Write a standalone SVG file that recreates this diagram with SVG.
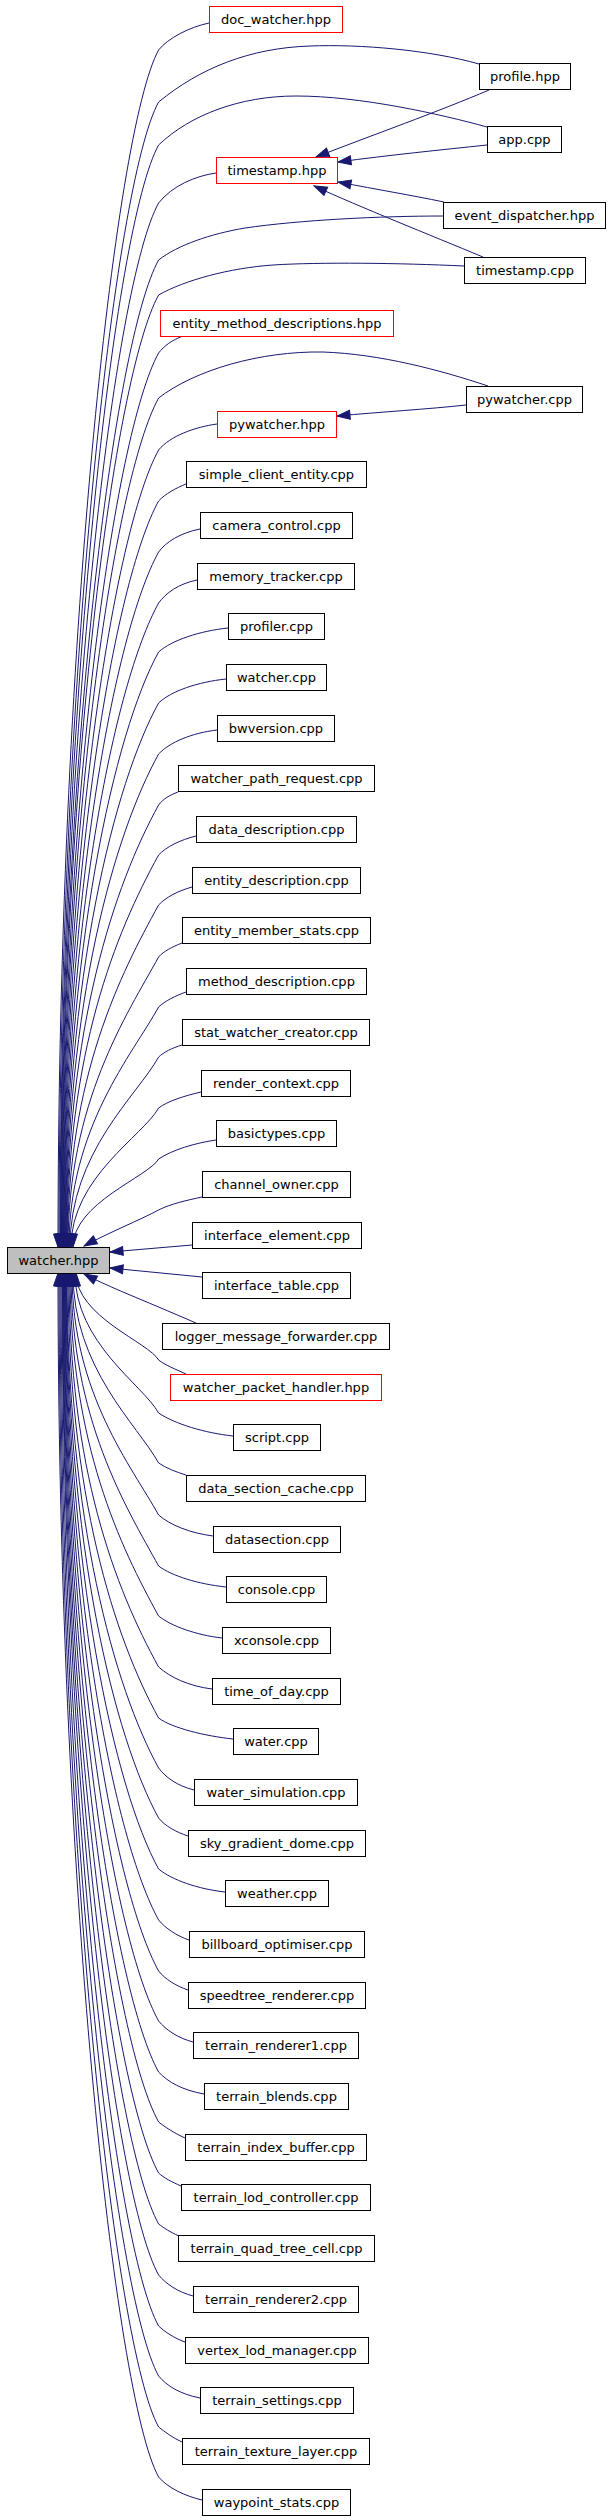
<svg xmlns="http://www.w3.org/2000/svg" width="608" height="2520" viewBox="0 0 608 2520">
<style>
.n rect{fill:#fff;stroke:#000;stroke-width:1}
.n.r rect{stroke:#f00}
.n.g rect{fill:#bfbfbf}
.n text{font-family:"DejaVu Sans","Liberation Sans",sans-serif;font-size:13px;fill:#000;text-anchor:middle}
#edges path{fill:none;stroke:#191970;stroke-width:1;marker-end:url(#a)}
</style>
<defs>
<marker id="a" markerUnits="userSpaceOnUse" markerWidth="15" markerHeight="11" refX="13" refY="5" orient="auto" viewBox="0 0 15 11" overflow="visible">
<path d="M0,0.5 L13,5 L0,9.5 Z" fill="#191970" stroke="#191970"/>
</marker>
</defs>
<rect width="608" height="2520" fill="#fff"/>
<g id="edges">
<path d="M209,23 C190,27 168,38 158.6,50 C114.6,130 58,648.5 58,1247"/>
<path d="M479,64 C430,50 360,44 310,46 C250,48 200,68 158.6,102 C114.6,182 59,674.5 59,1247"/>
<path d="M487,127 C440,114 360,96 296,96 C240,96 190,115 158.6,145 C114.6,225 60,696 60,1247"/>
<path d="M216,173 C195,176 172,186 158.6,203 C114.6,283 60.5,725 60.5,1247"/>
<path d="M443,216 C380,216 300,220 245,228 C210,234 178,245 158.6,260 C114.6,340 61,753.5 61,1247"/>
<path d="M464,266 C400,263 320,262 273,265 C230,268 185,280 158.6,295 C114.6,375 61.5,771 61.5,1247"/>
<path d="M183,336 C172,340 164,346 158.6,353 C114.6,433 62,800 62,1247"/>
<path d="M488,386 C440,370 380,354 323,352 C260,351 195,370 158.6,398 C114.6,478 62.5,822.5 62.5,1247"/>
<path d="M217,424 C195,427 170,436 158.6,450 C114.6,530 63,848.5 63,1247"/>
<path d="M186,484 C176,488 165,494 158.6,501 C114.6,581 63.5,874 63.5,1247"/>
<path d="M200,529 C180,533 166,542 158.6,552 C114.6,632 64,899.5 64,1247"/>
<path d="M197,580 C178,584 166,593 158.6,603 C114.6,683 64.5,925 64.5,1247"/>
<path d="M228,628 C200,631 172,640 158.6,652 C114.6,732 65,949.5 65,1247"/>
<path d="M226,679 C198,682 171,691 158.6,703 C114.6,783 65.5,975 65.5,1247"/>
<path d="M217,730 C192,733 170,742 158.6,754 C114.6,834 66,1000.5 66,1247"/>
<path d="M178,792 C170,795 163,799 158.6,805 C114.6,885 66.5,1026 66.5,1247"/>
<path d="M196,836 C180,840 166,847 158.6,855 C115.5,933.4 67,1051 67,1247"/>
<path d="M192,887 C178,891 166,897 158.6,905 C121,973.4 67.5,1076 67.5,1247"/>
<path d="M182,943 C172,947 164,951 158.6,957 C126.7,1015 68,1102 68,1247"/>
<path d="M186,992 C175,996 165,1001 158.6,1007 C132.2,1055 69,1127 69,1247"/>
<path d="M182,1045 C172,1048 164,1052 158.6,1057 C137.7,1095 70,1152 70,1247"/>
<path d="M201,1092 C184,1096 168,1101 158.6,1108 C143.3,1135.8 71,1177.5 71,1247"/>
<path d="M216,1140 C195,1143 172,1150 158.6,1159 C148.9,1176.6 73,1203 73,1247"/>
<path d="M202,1197 C188,1200 170,1204 158.6,1210 C140,1220 110,1232 84,1246"/>
<path d="M192,1245 L110,1252"/>
<path d="M202,1277 L110,1268"/>
<path d="M198,1324 C185,1318 170,1312 158.6,1307 C135,1297 105,1285 84,1274"/>
<path d="M186,1374 C175,1369 165,1365 158.6,1360 C149,1342.6 76,1316.5 76,1273"/>
<path d="M233,1436 C205,1433 175,1424 158.6,1413 C143.2,1385 75,1343 75,1273"/>
<path d="M186,1475 C176,1472 166,1468 158.6,1463 C137.7,1425 73,1368 73,1273"/>
<path d="M213,1536 C190,1533 170,1525 158.6,1515 C132,1466.6 72,1394 72,1273"/>
<path d="M226,1587 C198,1584 172,1576 158.6,1566 C126.4,1507.4 71,1419.5 71,1273"/>
<path d="M222,1638 C196,1635 171,1626 158.6,1616 C120.9,1547.4 70,1444.5 70,1273"/>
<path d="M212,1689 C188,1686 170,1677 158.6,1667 C115.3,1588.2 69,1470 69,1273"/>
<path d="M233,1739 C205,1736 172,1728 158.6,1718 C114.6,1638 68,1495.5 68,1273"/>
<path d="M194,1790 C178,1786 166,1778 158.6,1768 C114.6,1688 67,1520.5 67,1273"/>
<path d="M188,1836 C176,1832 165,1826 158.6,1818 C114.6,1738 66.5,1545.5 66.5,1273"/>
<path d="M225,1892 C198,1889 172,1880 158.6,1869 C114.6,1789 66,1571 66,1273"/>
<path d="M189,1940 C177,1936 165,1928 158.6,1920 C114.6,1840 65.5,1596.5 65.5,1273"/>
<path d="M188,1990 C176,1986 165,1979 158.6,1971 C114.6,1891 65,1622 65,1273"/>
<path d="M193,2042 C178,2038 166,2030 158.6,2021 C114.6,1941 64.5,1647 64.5,1273"/>
<path d="M204,2094 C182,2090 168,2082 158.6,2072 C114.6,1992 64,1672.5 64,1273"/>
<path d="M185,2138 C174,2133 165,2127 158.6,2122 C114.6,2042 63.5,1697.5 63.5,1273"/>
<path d="M181,2186 C172,2182 164,2178 158.6,2173 C114.6,2093 63,1723 63,1273"/>
<path d="M179,2236 C170,2232 164,2228 158.6,2224 C114.6,2144 62.5,1748.5 62.5,1273"/>
<path d="M193,2296 C178,2292 166,2284 158.6,2275 C114.6,2195 62,1774 62,1273"/>
<path d="M185,2342 C174,2338 165,2332 158.6,2326 C114.6,2246 61,1799.5 61,1273"/>
<path d="M200,2398 C180,2394 167,2386 158.6,2376 C114.6,2296 60,1824.5 60,1273"/>
<path d="M182,2442 C173,2438 165,2432 158.6,2427 C114.6,2347 59,1850 59,1273"/>
<path d="M202,2500 C185,2496 168,2488 158.6,2477 C114.6,2397 58,1875 58,1273"/>
<path d="M489,90 C440,111 370,136 316,157"/>
<path d="M487,145 C440,150 390,155 338,162"/>
<path d="M444,202 C410,195 380,190 338,182"/>
<path d="M483,257 C430,235 360,207 314,186"/>
<path d="M466,405 C430,409 380,412 337,416"/>
</g>
<g id="watcher_hpp" class="n g"><rect x="7.5" y="1247.5" width="102" height="26"/><text x="58.5" y="1265">watcher.hpp</text></g>
<g id="doc_watcher_hpp" class="n r"><rect x="209.5" y="6.5" width="133" height="26"/><text x="276" y="24">doc_watcher.hpp</text></g>
<g id="profile_hpp" class="n"><rect x="479.5" y="63.5" width="91" height="26"/><text x="525" y="81">profile.hpp</text></g>
<g id="app_cpp" class="n"><rect x="487.5" y="126.5" width="74" height="26"/><text x="524.5" y="144">app.cpp</text></g>
<g id="timestamp_hpp" class="n r"><rect x="216.5" y="157.5" width="121" height="26"/><text x="277" y="175">timestamp.hpp</text></g>
<g id="event_dispatcher_hpp" class="n"><rect x="443.5" y="202.5" width="162" height="26"/><text x="524.5" y="220">event_dispatcher.hpp</text></g>
<g id="timestamp_cpp" class="n"><rect x="464.5" y="257.5" width="121" height="26"/><text x="525" y="275">timestamp.cpp</text></g>
<g id="entity_method_descriptions_hpp" class="n r"><rect x="160.5" y="310.5" width="233" height="26"/><text x="277" y="328">entity_method_descriptions.hpp</text></g>
<g id="pywatcher_cpp" class="n"><rect x="466.5" y="386.5" width="116" height="26"/><text x="524.5" y="404">pywatcher.cpp</text></g>
<g id="pywatcher_hpp" class="n r"><rect x="217.5" y="411.5" width="119" height="26"/><text x="277" y="429">pywatcher.hpp</text></g>
<g id="simple_client_entity_cpp" class="n"><rect x="186.5" y="461.5" width="180" height="26"/><text x="276.5" y="479.3">simple_client_entity.cpp</text></g>
<g id="camera_control_cpp" class="n"><rect x="200.5" y="512.5" width="152" height="26"/><text x="276.5" y="530">camera_control.cpp</text></g>
<g id="memory_tracker_cpp" class="n"><rect x="197.5" y="563.5" width="157" height="26"/><text x="276" y="580.7">memory_tracker.cpp</text></g>
<g id="profiler_cpp" class="n"><rect x="228.5" y="613.5" width="96" height="26"/><text x="276.5" y="631.3">profiler.cpp</text></g>
<g id="watcher_cpp" class="n"><rect x="226.5" y="664.5" width="100" height="26"/><text x="276.5" y="682">watcher.cpp</text></g>
<g id="bwversion_cpp" class="n"><rect x="217.5" y="715.5" width="117" height="26"/><text x="276" y="732.7">bwversion.cpp</text></g>
<g id="watcher_path_request_cpp" class="n"><rect x="178.5" y="765.5" width="196" height="26"/><text x="276.5" y="783.4">watcher_path_request.cpp</text></g>
<g id="data_description_cpp" class="n"><rect x="196.5" y="816.5" width="160" height="26"/><text x="276.5" y="834.1">data_description.cpp</text></g>
<g id="entity_description_cpp" class="n"><rect x="192.5" y="867.5" width="168" height="26"/><text x="276.5" y="884.7">entity_description.cpp</text></g>
<g id="entity_member_stats_cpp" class="n"><rect x="182.5" y="917.5" width="188" height="26"/><text x="276.5" y="935.4">entity_member_stats.cpp</text></g>
<g id="method_description_cpp" class="n"><rect x="186.5" y="968.5" width="180" height="26"/><text x="276.5" y="986.1">method_description.cpp</text></g>
<g id="stat_watcher_creator_cpp" class="n"><rect x="182.5" y="1019.5" width="187" height="26"/><text x="276" y="1036.8">stat_watcher_creator.cpp</text></g>
<g id="render_context_cpp" class="n"><rect x="201.5" y="1070.5" width="149" height="26"/><text x="276" y="1087.5">render_context.cpp</text></g>
<g id="basictypes_cpp" class="n"><rect x="216.5" y="1120.5" width="120" height="26"/><text x="276.5" y="1138.1">basictypes.cpp</text></g>
<g id="channel_owner_cpp" class="n"><rect x="202.5" y="1171.5" width="148" height="26"/><text x="276.5" y="1188.8">channel_owner.cpp</text></g>
<g id="interface_element_cpp" class="n"><rect x="192.5" y="1222.5" width="169" height="26"/><text x="277" y="1239.5">interface_element.cpp</text></g>
<g id="interface_table_cpp" class="n"><rect x="202.5" y="1272.5" width="148" height="26"/><text x="276.5" y="1290.2">interface_table.cpp</text></g>
<g id="logger_message_forwarder_cpp" class="n"><rect x="162.5" y="1323.5" width="227" height="26"/><text x="276" y="1340.9">logger_message_forwarder.cpp</text></g>
<g id="watcher_packet_handler_hpp" class="n r"><rect x="170.5" y="1374.5" width="211" height="26"/><text x="276" y="1391.5">watcher_packet_handler.hpp</text></g>
<g id="script_cpp" class="n"><rect x="233.5" y="1424.5" width="87" height="26"/><text x="277" y="1442.2">script.cpp</text></g>
<g id="data_section_cache_cpp" class="n"><rect x="186.5" y="1475.5" width="179" height="26"/><text x="276" y="1492.9">data_section_cache.cpp</text></g>
<g id="datasection_cpp" class="n"><rect x="213.5" y="1526.5" width="127" height="26"/><text x="277" y="1543.6">datasection.cpp</text></g>
<g id="console_cpp" class="n"><rect x="226.5" y="1576.5" width="100" height="26"/><text x="276.5" y="1594.3">console.cpp</text></g>
<g id="xconsole_cpp" class="n"><rect x="222.5" y="1627.5" width="108" height="26"/><text x="276.5" y="1644.9">xconsole.cpp</text></g>
<g id="time_of_day_cpp" class="n"><rect x="212.5" y="1678.5" width="128" height="26"/><text x="276.5" y="1695.6">time_of_day.cpp</text></g>
<g id="water_cpp" class="n"><rect x="233.5" y="1728.5" width="85" height="26"/><text x="276" y="1746.3">water.cpp</text></g>
<g id="water_simulation_cpp" class="n"><rect x="194.5" y="1779.5" width="163" height="26"/><text x="276" y="1797">water_simulation.cpp</text></g>
<g id="sky_gradient_dome_cpp" class="n"><rect x="188.5" y="1830.5" width="177" height="26"/><text x="277" y="1847.7">sky_gradient_dome.cpp</text></g>
<g id="weather_cpp" class="n"><rect x="225.5" y="1880.5" width="103" height="26"/><text x="277" y="1898.3">weather.cpp</text></g>
<g id="billboard_optimiser_cpp" class="n"><rect x="189.5" y="1931.5" width="175" height="26"/><text x="277" y="1949">billboard_optimiser.cpp</text></g>
<g id="speedtree_renderer_cpp" class="n"><rect x="188.5" y="1982.5" width="177" height="26"/><text x="277" y="1999.7">speedtree_renderer.cpp</text></g>
<g id="terrain_renderer1_cpp" class="n"><rect x="193.5" y="2032.5" width="165" height="26"/><text x="276" y="2050.4">terrain_renderer1.cpp</text></g>
<g id="terrain_blends_cpp" class="n"><rect x="204.5" y="2083.5" width="144" height="26"/><text x="276.5" y="2101.1">terrain_blends.cpp</text></g>
<g id="terrain_index_buffer_cpp" class="n"><rect x="185.5" y="2134.5" width="181" height="26"/><text x="276" y="2151.7">terrain_index_buffer.cpp</text></g>
<g id="terrain_lod_controller_cpp" class="n"><rect x="181.5" y="2184.5" width="189" height="26"/><text x="276" y="2202.4">terrain_lod_controller.cpp</text></g>
<g id="terrain_quad_tree_cell_cpp" class="n"><rect x="178.5" y="2235.5" width="196" height="26"/><text x="276.5" y="2253.1">terrain_quad_tree_cell.cpp</text></g>
<g id="terrain_renderer2_cpp" class="n"><rect x="193.5" y="2286.5" width="165" height="26"/><text x="276" y="2303.8">terrain_renderer2.cpp</text></g>
<g id="vertex_lod_manager_cpp" class="n"><rect x="185.5" y="2337.5" width="183" height="26"/><text x="277" y="2354.5">vertex_lod_manager.cpp</text></g>
<g id="terrain_settings_cpp" class="n"><rect x="200.5" y="2387.5" width="153" height="26"/><text x="277" y="2405.1">terrain_settings.cpp</text></g>
<g id="terrain_texture_layer_cpp" class="n"><rect x="182.5" y="2438.5" width="187" height="26"/><text x="276" y="2455.8">terrain_texture_layer.cpp</text></g>
<g id="waypoint_stats_cpp" class="n"><rect x="202.5" y="2489.5" width="148" height="26"/><text x="276.5" y="2506.5">waypoint_stats.cpp</text></g>
</svg>
